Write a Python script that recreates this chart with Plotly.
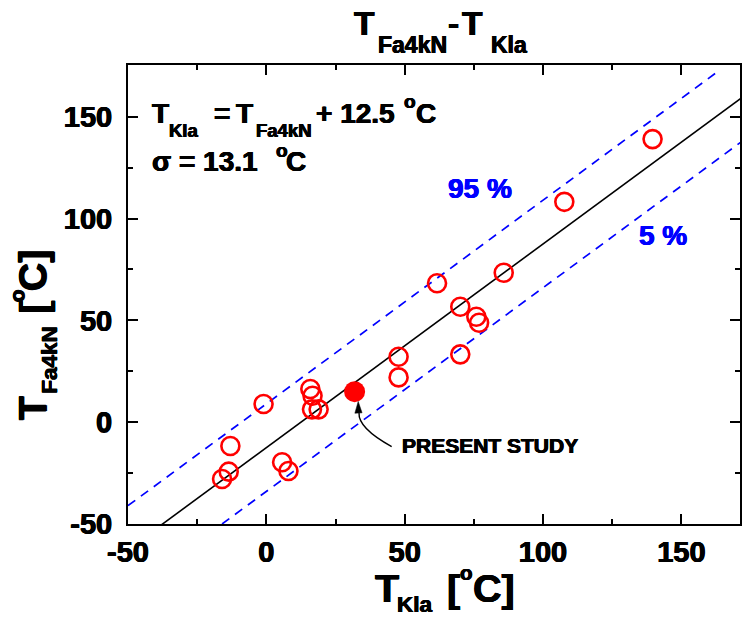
import plotly.graph_objects as go

# ---------------- data ----------------
t_kla = [-1.0, -13.0, -13.6, -16.0, 5.7, 8.0, 15.9, 16.7, 16.5, 18.9,
         47.8, 47.8, 61.7, 70.1, 75.9, 76.9, 70.1, 85.8, 107.7, 139.6]
t_fa4kn = [8.9, -11.7, -24.3, -27.9, -19.7, -24.0, 16.3, 13.0, 6.3, 6.3,
           32.1, 22.0, 68.2, 56.7, 51.8, 48.8, 33.3, 73.4, 108.2, 139.0]
present_kla = [31.9]
present_fa4kn = [15.0]

# fitted line T_Kla = T_Fa4kN + 12.5  and its 95 % / 5 % bounds (+/- 21.5)
fit_x = [-50.0, 175.0]
fit_y = [-62.5, 162.5]
upper_x = [-50.0, 163.0]
upper_y = [-41.0, 172.0]
lower_x = [-16.0, 175.0]
lower_y = [-50.0, 141.0]

x_ticks = [-50, 0, 50, 100, 150]
y_ticks = [-50, 0, 50, 100, 150]
x_range = [-50, 171.2]
y_range = [-50, 175.4]

# ---------------- layout geometry ----------------
W, H = 742, 617
ML, MR, MT, MB = 128, 2, 65, 93
PW, PH = W - ML - MR, H - MT - MB
FONT = "Liberation Sans, Arial, Helvetica, sans-serif"


def heavy(c):
    return f"0.5px 0 0 {c}, -0.5px 0 0 {c}, 0 0.3px 0 {c}"


fig = go.Figure()

fig.add_trace(go.Scatter(x=fit_x, y=fit_y, mode="lines",
                         line=dict(color="black", width=1.6), showlegend=False))
fig.add_trace(go.Scatter(x=upper_x, y=upper_y, mode="lines",
                         line=dict(color="#0000ff", width=1.7, dash="9px,7px"), showlegend=False))
fig.add_trace(go.Scatter(x=lower_x, y=lower_y, mode="lines",
                         line=dict(color="#0000ff", width=1.7, dash="9px,7px"), showlegend=False))
fig.add_trace(go.Scatter(x=t_kla, y=t_fa4kn, mode="markers",
                         marker=dict(symbol="circle-open", size=18, color="#ff0000",
                                     line=dict(width=2.6, color="#ff0000")),
                         showlegend=False))
fig.add_trace(go.Scatter(x=present_kla, y=present_fa4kn, mode="markers",
                         marker=dict(symbol="circle", size=21, color="#ff0000",
                                     line=dict(width=0)),
                         showlegend=False))

# curved arrow pointing to the present study point
fig.add_shape(type="path", xref="x", yref="y",
              path="M 45.3,-12.0 Q 33.1,-2.9 33.5,4.6",
              line=dict(color="black", width=1.4))
fig.add_shape(type="path", xref="x", yref="y",
              path="M 33.2,10.2 L 32.0,4.4 L 34.6,4.6 Z",
              line=dict(color="black", width=0.5), fillcolor="black")


def text_h(txt, left, baseline, size, color="black"):
    """horizontal text piece: left ink edge / baseline in pixels"""
    bl = left - 0.04 * size
    top = baseline - 0.905 * size
    fig.add_annotation(text=txt, xref="paper", yref="paper",
                       x=(bl - ML) / PW, y=(H - MB - top) / PH,
                       xanchor="left", yanchor="top", showarrow=False,
                       borderpad=0, borderwidth=0,
                       font=dict(family=FONT, size=size, color=color, weight="bold",
                                 shadow=heavy(color)))


def text_v(txt, cx, cy, size, color="black"):
    """rotated (-90) text piece centred at pixel cx, cy"""
    fig.add_annotation(text=txt, xref="paper", yref="paper",
                       x=(cx - ML) / PW, y=(H - MB - cy) / PH,
                       xanchor="center", yanchor="middle", showarrow=False,
                       textangle=-90, borderpad=0, borderwidth=0,
                       font=dict(family=FONT, size=size, color=color, weight="bold",
                                 shadow=heavy(color)))


# title  T_Fa4kN - T_Kla
text_h("T", 355, 35, 33.5)
text_h("Fa4kN", 379.3, 53.3, 23)
text_h("-", 449.3, 35, 33.5)
text_h("T", 463, 35, 33.5)
text_h("Kla", 491.7, 53.3, 23)

# x axis title  T_Kla [oC]
text_h("T", 376.7, 601.7, 39.5)
text_h("Kla", 398.3, 612, 22.5)
text_h("[", 448.3, 601.7, 39.5)
text_h("o", 461, 580, 20.5)
text_h("C]", 474.5, 601.7, 39.5)

# y axis title  T_Fa4kN [oC]  (rotated)
BASE_Y = 46
text_v("T", BASE_Y - 0.3465 * 39.5, 408, 39.5)
text_v("Fa4kN", 57 - 0.3465 * 22.5, 359.5, 22.5)
text_v("[", BASE_Y - 0.3465 * 39.5, 307.5, 39.5)
text_v("o", 24 - 0.3465 * 21, 295.5, 21)
text_v("C]", BASE_Y - 0.3465 * 39.5, 270, 39.5)

# equation box
text_h("T", 153.3, 123.3, 28)
text_h("Kla", 169.5, 136.7, 18.5)
text_h("=", 215, 123.3, 28)
text_h("T", 236.7, 123.3, 28)
text_h("Fa4kN", 256.7, 136.7, 18.5)
text_h("+ 12.5", 316.7, 123.3, 28)
text_h("o", 405, 108, 19)
text_h("C", 416.7, 123.3, 28)
text_h("σ = 13.1", 153.3, 171.7, 28)
text_h("o", 276.7, 157, 19)
text_h("C", 286.7, 171.7, 28)

# band labels
text_h("95 %", 449, 198.3, 28, "#0000ff")
text_h("5 %", 640, 245, 28, "#0000ff")
text_h("PRESENT STUDY", 403, 453, 21)

axis_common = dict(
    showline=True, linewidth=2, linecolor="black", mirror="ticks",
    ticks="inside", ticklen=10, tickwidth=2, tickcolor="black",
    showgrid=False, zeroline=False, automargin=False,
    tickfont=dict(family=FONT, size=29, color="black", weight="bold",
                  shadow=heavy("black")),
    minor=dict(ticks="inside", ticklen=5, tickwidth=2, tickcolor="black",
               dtick=25, showgrid=False),
)

fig.update_xaxes(range=x_range, tickmode="array", tickvals=x_ticks,
                 ticktext=[str(v) for v in x_ticks], ticklabelstandoff=1,
                 **axis_common)
fig.update_yaxes(range=y_range, tickmode="array", tickvals=y_ticks,
                 ticktext=[str(v) for v in y_ticks], ticklabelstandoff=8,
                 **axis_common)

fig.update_layout(width=W, height=H, autosize=False,
                  margin=dict(l=ML, r=MR, t=MT, b=MB, pad=0),
                  paper_bgcolor="white", plot_bgcolor="white",
                  showlegend=False)

fig.write_html("out.html")
